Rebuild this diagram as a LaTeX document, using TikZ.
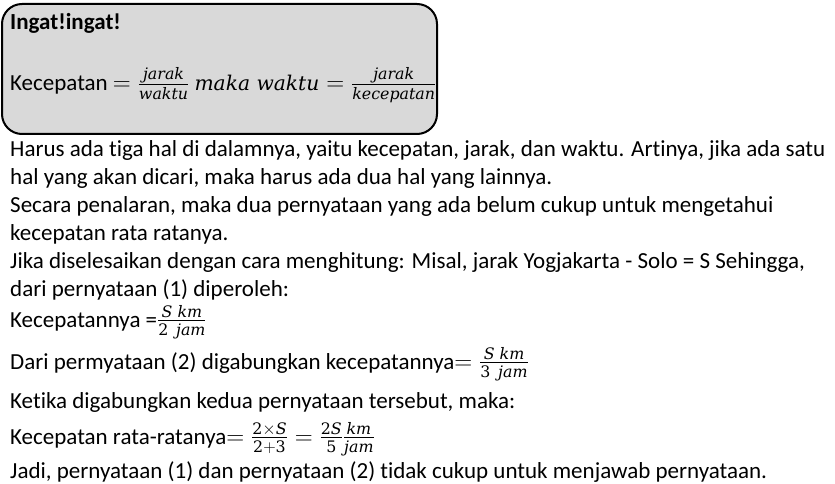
\documentclass[tikz,border=0pt]{standalone}
\usepackage{amsmath}
\usepackage{fontspec}
\setmainfont{Carlito}[RawFeature={-liga;-clig;-dlig}]
\newfontfamily\mfam{DejaVu Serif}[Scale=0.88]
\DeclareMathSizes{23}{23}{18}{14}
\newcommand\mi[1]{\text{\mfam\itshape #1}}
\newcommand\mr[1]{\text{\mfam #1}}
\definecolor{boxgray}{HTML}{D9D9D9}
\begin{document}
\begin{tikzpicture}[x=1pt,y=-1pt,
  txt/.style={anchor=base west, inner sep=0pt, font=\fontsize{23}{28}\selectfont},
  notebox/.style={draw=black, line width=2pt, fill=boxgray, rounded corners=20pt}]
\useasboundingbox (0,0) rectangle (835,484);
\draw[notebox] (2,4) rectangle (437,134);
\node[txt, font=\fontsize{23}{28}\selectfont\bfseries] (t0) at (10,30) {Ingat!ingat!};
\node[txt] (t1) at (10,91) {Kecepatan $=\frac{\mi{jarak}}{\mi{waktu}}$ $\mi{maka waktu}=\frac{\mi{jarak}}{\mi{kecepatan}}$};
\node[txt] (l1) at (10,157) {Harus ada tiga hal di dalamnya, yaitu kecepatan, jarak, dan waktu. Artinya, jika ada satu};
\node[txt] (l2) at (10,184) {hal yang akan dicari, maka harus ada dua hal yang lainnya.};
\node[txt] (l3) at (10,212) {Secara penalaran, maka dua pernyataan yang ada belum cukup untuk mengetahui};
\node[txt] (l4) at (10,240) {kecepatan rata ratanya.};
\node[txt] (l5) at (10,268) {Jika diselesaikan dengan cara menghitung: Misal, jarak Yogjakarta - Solo = S Sehingga,};
\node[txt] (l6) at (10,296) {dari pernyataan (1) diperoleh:};
\node[txt] (l7) at (10,327) {Kecepatannya =$\frac{\mi{S km}}{\mr{2}\mkern8mu\mi{jam}}$};
\node[txt] (l8) at (10,369) {Dari permyataan (2) digabungkan kecepatannya$=\frac{\mi{S km}}{\mr{3}\mkern8mu\mi{jam}}$};
\node[txt] (l9) at (10,408) {Ketika digabungkan kedua pernyataan tersebut, maka:};
\node[txt] (l10) at (10,444) {Kecepatan rata-ratanya$=\frac{\mr{2}\times \mi{S}}{\mr{2}+\mr{3}}=\frac{\mr{2}\mi{S}}{\mr{5}}\frac{\mi{km}}{\mi{jam}}$};
\node[txt] (l11) at (10,478) {Jadi, pernyataan (1) dan pernyataan (2) tidak cukup untuk menjawab pernyataan.};
\end{tikzpicture}
\end{document}
